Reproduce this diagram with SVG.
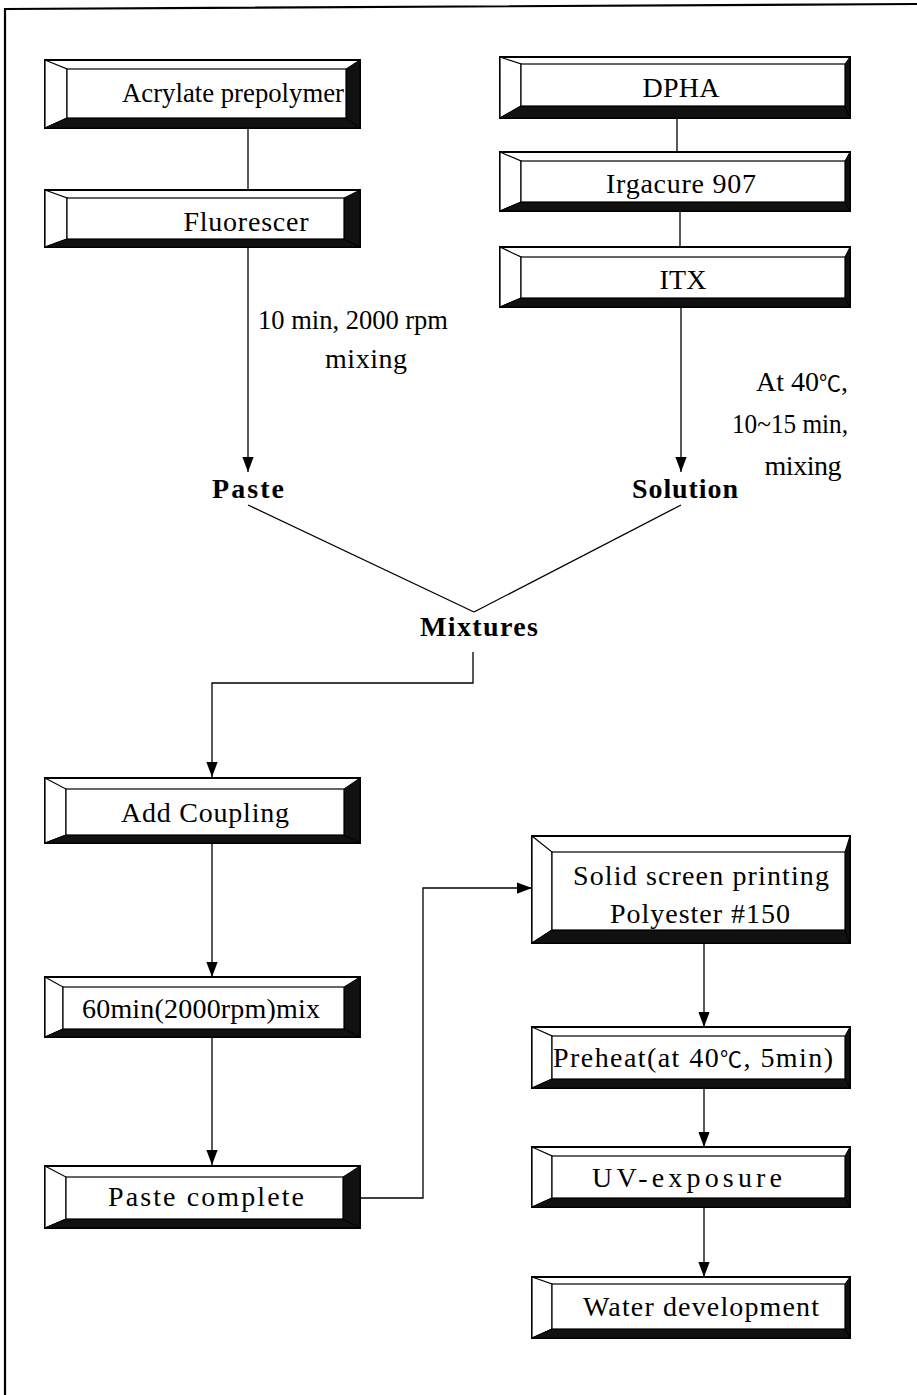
<svg xmlns="http://www.w3.org/2000/svg" width="917" height="1395" viewBox="0 0 917 1395">
<style>
.t{font-family:"Liberation Serif","Noto Sans CJK KR",serif;font-size:28px;fill:#000;text-anchor:middle}
.b{font-weight:bold}
.deg{font-family:"Noto Sans CJK KR",sans-serif;font-size:22px}
.ol{fill:#fff;stroke:#000;stroke-width:2}
.bv{fill:#fff;stroke:#000;stroke-width:1.2}
.dk{fill:#111;stroke:#000;stroke-width:1}
.in{fill:#fff;stroke:#000;stroke-width:1.2}
.c{fill:none;stroke:#000;stroke-width:1.3}
</style>
<defs>
<marker id="ah" markerUnits="userSpaceOnUse" markerWidth="15" markerHeight="22" refX="20" refY="7.5" viewBox="0 0 20 15" orient="auto">
<path d="M0,0 L20,7.5 L0,15 Z" fill="#000"/>
</marker>
</defs>
<rect width="917" height="1395" fill="#fff"/>
<g id="frame"><path d="M5,1395 L5,9 L917,4" fill="none" stroke="#000" stroke-width="2.2"/></g>

<g id="connectors">
<line class="c" x1="248" y1="128" x2="248" y2="190"/>
<line class="c" x1="677" y1="118" x2="677" y2="152"/>
<line class="c" x1="680" y1="211" x2="680" y2="247"/>
<line class="c" x1="248" y1="247" x2="248" y2="472" marker-end="url(#ah)"/>
<line class="c" x1="681" y1="307" x2="681" y2="472" marker-end="url(#ah)"/>
<line class="c" x1="248" y1="505" x2="474" y2="612"/>
<line class="c" x1="681" y1="505" x2="474" y2="612"/>
<path class="c" d="M473,652 L473,683 L212,683 L212,777" marker-end="url(#ah)"/>
<line class="c" x1="212" y1="843" x2="212" y2="977" marker-end="url(#ah)"/>
<line class="c" x1="212" y1="1037" x2="212" y2="1165" marker-end="url(#ah)"/>
<path class="c" d="M358,1198 L423,1198 L423,888 L532,888" marker-end="url(#ah)"/>
<line class="c" x1="704" y1="943" x2="704" y2="1027" marker-end="url(#ah)"/>
<line class="c" x1="704" y1="1088" x2="704" y2="1147" marker-end="url(#ah)"/>
<line class="c" x1="704" y1="1207" x2="704" y2="1277" marker-end="url(#ah)"/>
</g>

<g id="n-acrylate">
<rect class="ol" x="45" y="60" width="315" height="68"/>
<polygon class="bv" points="45,60 67,69 67,118 45,128"/>
<polygon class="dk" points="45,128 67,118 346,118 360,128"/>
<polygon class="dk" points="346,69 360,60 360,128 346,118"/>
<rect class="in" x="67" y="69" width="279" height="49"/>
<text class="t" x="233" y="102" textLength="222" lengthAdjust="spacingAndGlyphs">Acrylate prepolymer</text>
</g>
<g id="n-fluorescer">
<rect class="ol" x="45" y="190" width="315" height="57"/>
<polygon class="bv" points="45,190 67,198 67,239 45,247"/>
<polygon class="dk" points="45,247 67,239 344,239 360,247"/>
<polygon class="dk" points="344,198 360,190 360,247 344,239"/>
<rect class="in" x="67" y="198" width="277" height="41"/>
<text class="t" x="246" y="231" textLength="125" lengthAdjust="spacing">Fluorescer</text>
</g>
<g id="n-add">
<rect class="ol" x="45" y="778" width="315" height="65"/>
<polygon class="bv" points="45,778 66,789 66,835 45,843"/>
<polygon class="dk" points="45,843 66,835 344,835 360,843"/>
<polygon class="dk" points="344,789 360,778 360,843 344,835"/>
<rect class="in" x="66" y="789" width="278" height="46"/>
<text class="t" x="205" y="822" textLength="168" lengthAdjust="spacing">Add Coupling</text>
</g>
<g id="n-60min">
<rect class="ol" x="45" y="977" width="315" height="60"/>
<polygon class="bv" points="45,977 63,987 63,1029 45,1037"/>
<polygon class="dk" points="45,1037 63,1029 344,1029 360,1037"/>
<polygon class="dk" points="344,987 360,977 360,1037 344,1029"/>
<rect class="in" x="63" y="987" width="281" height="42"/>
<text class="t" x="201" y="1018" textLength="238" lengthAdjust="spacing">60min(2000rpm)mix</text>
</g>
<g id="n-pastecomplete">
<rect class="ol" x="45" y="1166" width="315" height="62"/>
<polygon class="bv" points="45,1166 66,1177 66,1219 45,1228"/>
<polygon class="dk" points="45,1228 66,1219 343,1219 360,1228"/>
<polygon class="dk" points="343,1177 360,1166 360,1228 343,1219"/>
<rect class="in" x="66" y="1177" width="277" height="42"/>
<text class="t" x="206" y="1206" textLength="196" lengthAdjust="spacing">Paste complete</text>
</g>

<g id="n-dpha">
<rect class="ol" x="500" y="57" width="350" height="61"/>
<polygon class="bv" points="500,57 521,64 521,106 500,118"/>
<polygon class="dk" points="500,118 521,106 845,106 850,118"/>
<polygon class="dk" points="845,64 850,57 850,118 845,106"/>
<rect class="in" x="521" y="64" width="324" height="42"/>
<text class="t" x="681" y="97" textLength="77" lengthAdjust="spacing">DPHA</text>
</g>
<g id="n-irgacure">
<rect class="ol" x="500" y="152" width="350" height="59"/>
<polygon class="bv" points="500,152 521,161 521,202 500,211"/>
<polygon class="dk" points="500,211 521,202 845,202 850,211"/>
<polygon class="dk" points="845,161 850,152 850,211 845,202"/>
<rect class="in" x="521" y="161" width="324" height="41"/>
<text class="t" x="681" y="193" textLength="150" lengthAdjust="spacing">Irgacure 907</text>
</g>
<g id="n-itx">
<rect class="ol" x="500" y="247" width="350" height="60"/>
<polygon class="bv" points="500,247 521,257 521,298 500,307"/>
<polygon class="dk" points="500,307 521,298 845,298 850,307"/>
<polygon class="dk" points="845,257 850,247 850,307 845,298"/>
<rect class="in" x="521" y="257" width="324" height="41"/>
<text class="t" x="683" y="289" textLength="47" lengthAdjust="spacing">ITX</text>
</g>

<g id="n-solid">
<rect class="ol" x="532" y="836" width="318" height="107"/>
<polygon class="bv" points="532,836 552,852 552,930 532,943"/>
<polygon class="dk" points="532,943 552,930 845,930 850,943"/>
<polygon class="dk" points="845,852 850,836 850,943 845,930"/>
<rect class="in" x="552" y="852" width="293" height="78"/>
<text class="t" x="701" y="885" textLength="256" lengthAdjust="spacing">Solid screen printing</text>
<text class="t" x="700" y="923" textLength="180" lengthAdjust="spacing">Polyester #150</text>
</g>
<g id="n-preheat">
<rect class="ol" x="532" y="1027" width="318" height="61"/>
<polygon class="bv" points="532,1027 552,1036 552,1079 532,1088"/>
<polygon class="dk" points="532,1088 552,1079 845,1079 850,1088"/>
<polygon class="dk" points="845,1036 850,1027 850,1088 845,1079"/>
<rect class="in" x="552" y="1036" width="293" height="43"/>
<text class="t" x="693" y="1067" textLength="280" lengthAdjust="spacing">Preheat(at 40<tspan class="deg">℃</tspan>, 5min)</text>
</g>
<g id="n-uv">
<rect class="ol" x="532" y="1147" width="318" height="60"/>
<polygon class="bv" points="532,1147 552,1156 552,1198 532,1207"/>
<polygon class="dk" points="532,1207 552,1198 845,1198 850,1207"/>
<polygon class="dk" points="845,1156 850,1147 850,1207 845,1198"/>
<rect class="in" x="552" y="1156" width="293" height="42"/>
<text class="t" x="687" y="1187" textLength="190" lengthAdjust="spacing">UV-exposure</text>
</g>
<g id="n-water">
<rect class="ol" x="532" y="1277" width="318" height="61"/>
<polygon class="bv" points="532,1277 552,1284 552,1329 532,1338"/>
<polygon class="dk" points="532,1338 552,1329 845,1329 850,1338"/>
<polygon class="dk" points="845,1284 850,1277 850,1338 845,1329"/>
<rect class="in" x="552" y="1284" width="293" height="45"/>
<text class="t" x="701" y="1316" textLength="236" lengthAdjust="spacing">Water development</text>
</g>

<g id="labels">
<text class="t" x="353" y="329" textLength="190" lengthAdjust="spacingAndGlyphs">10 min, 2000 rpm</text>
<text class="t" x="366" y="368" textLength="82" lengthAdjust="spacing">mixing</text>
<text class="t" x="802" y="391">At 40<tspan class="deg">℃</tspan>,</text>
<text class="t" x="790" y="433" textLength="116" lengthAdjust="spacingAndGlyphs">10~15 min,</text>
<text class="t" x="803" y="475" textLength="77" lengthAdjust="spacing">mixing</text>
</g>
<g id="n-paste"><text class="t b" x="248" y="498" textLength="72" lengthAdjust="spacing">Paste</text></g>
<g id="n-solution"><text class="t b" x="685" y="498" textLength="106" lengthAdjust="spacing">Solution</text></g>
<g id="n-mixtures"><text class="t b" x="479" y="636" textLength="118" lengthAdjust="spacing">Mixtures</text></g>
</svg>
